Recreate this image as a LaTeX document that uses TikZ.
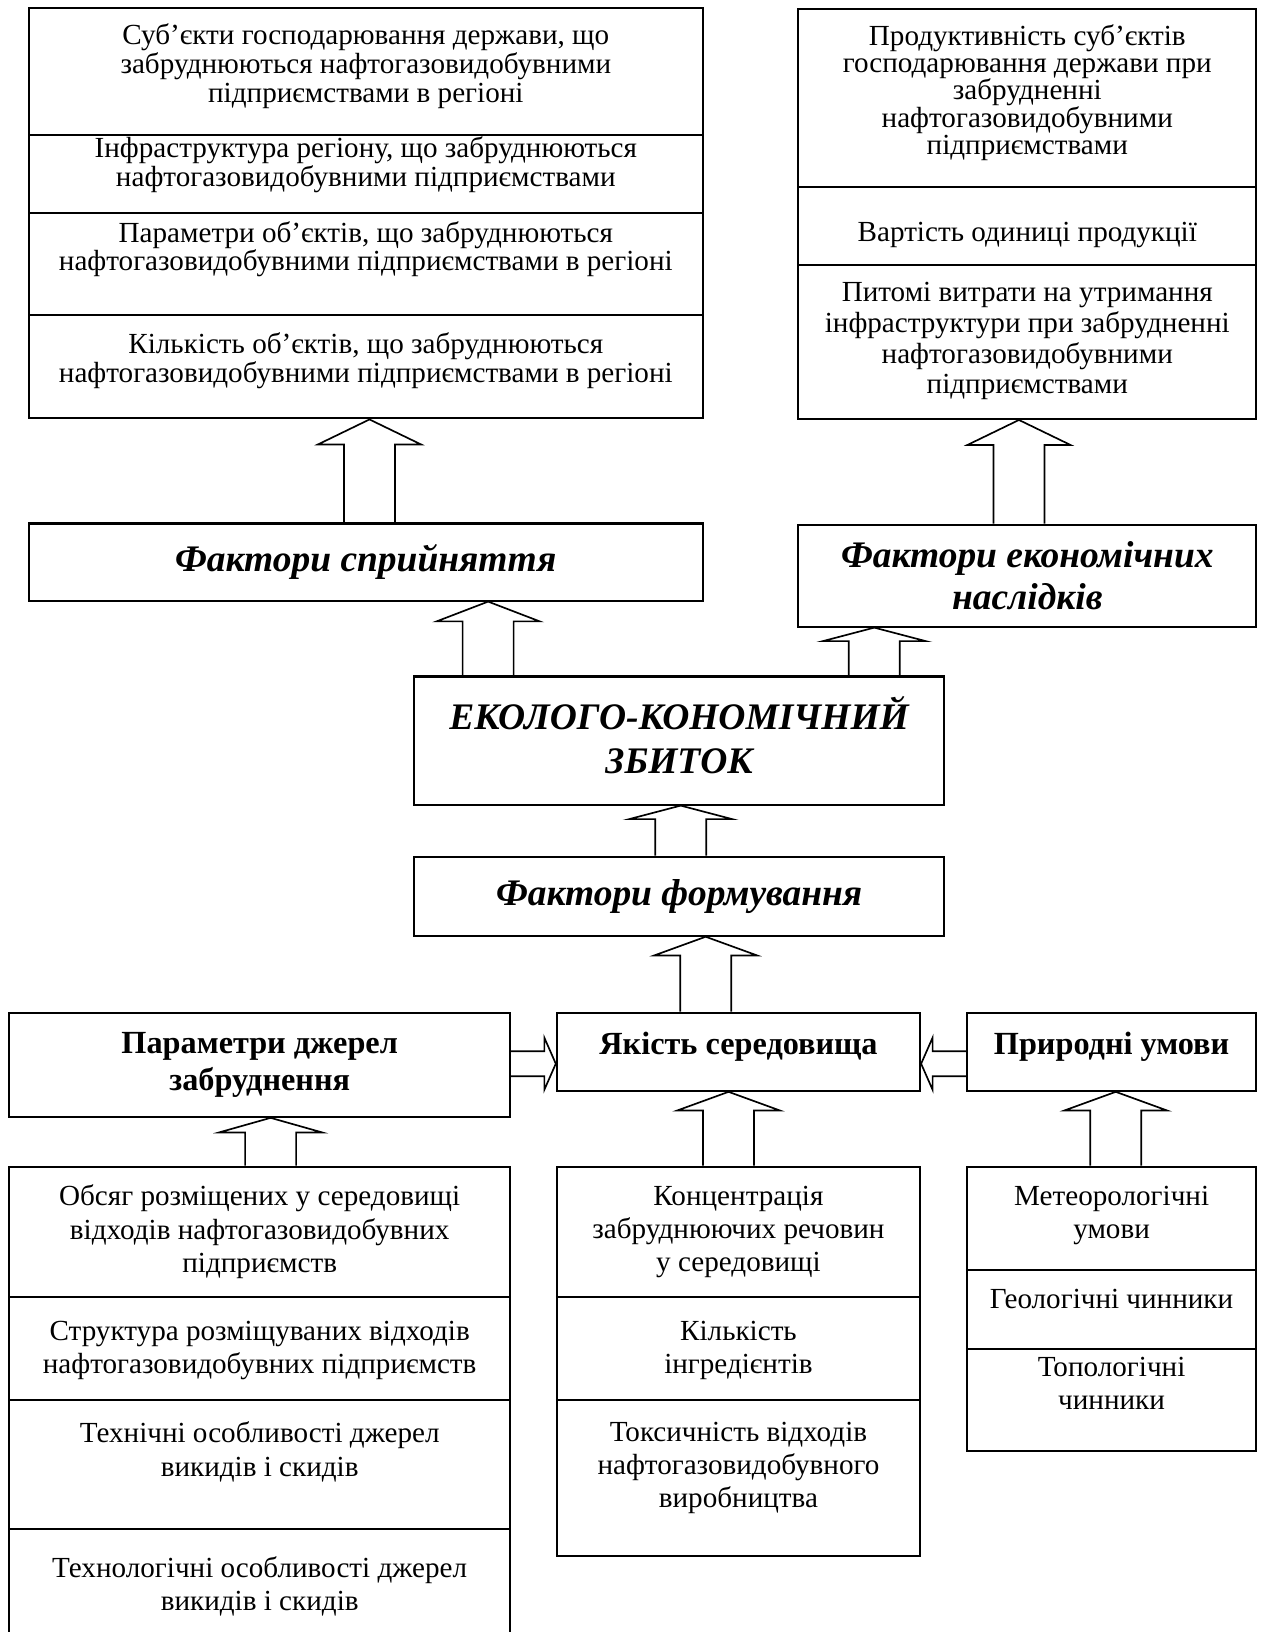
\documentclass[tikz,border=0pt]{standalone}
\usepackage{fontspec}
\setmainfont{Liberation Serif}
\usetikzlibrary{calc}

% hollow block arrows between two named nodes
% \blockup[head length]{x}{lower node}{upper node}
\newcommand{\blockup}[4][22]{%
  \draw[hollow] (#2-24.5,0 |- #3.north) -- ($(#2-24.5,0 |- #4.south)+(0,#1)$)
    -- ($(#2-49.5,0 |- #4.south)+(0,#1)$) -- (#2,0 |- #4.south)
    -- ($(#2+49.5,0 |- #4.south)+(0,#1)$) -- ($(#2+24.5,0 |- #4.south)+(0,#1)$)
    -- (#2+24.5,0 |- #3.north);}
% \blockright{y}{left node}{right node}
\newcommand{\blockright}[3]{%
  \draw[hollow] (0,#1-12 -| #2.east) -- ($(0,#1-12 -| #3.west)+(-11,0)$)
    -- ($(0,#1-25 -| #3.west)+(-11,0)$) -- (0,#1 -| #3.west)
    -- ($(0,#1+25 -| #3.west)+(-11,0)$) -- ($(0,#1+12 -| #3.west)+(-11,0)$)
    -- (0,#1+12 -| #2.east);}
% \blockleft{y}{right node}{left node}
\newcommand{\blockleft}[3]{%
  \draw[hollow] (0,#1-12 -| #2.west) -- ($(0,#1-12 -| #3.east)+(11,0)$)
    -- ($(0,#1-25 -| #3.east)+(11,0)$) -- (0,#1 -| #3.east)
    -- ($(0,#1+25 -| #3.east)+(11,0)$) -- ($(0,#1+12 -| #3.east)+(11,0)$)
    -- (0,#1+12 -| #2.west);}

\begin{document}
\begin{tikzpicture}
	[x=0.5pt,y=-0.5pt,every node/.style={inner sep=0pt, align=center, font=\fontsize{14}{13.75}\selectfont}]
	\tikzstyle{box} = [draw, line width=1pt];
	\tikzstyle{divider} = [line width=1pt];
	\tikzstyle{hollow} = [line width=0.8pt, line join=miter];
	\tikzstyle{title} = [font=\fontsize{18}{20.5}\selectfont\bfseries\itshape];
	\tikzstyle{heavy} = [font=\fontsize{15.5}{18}\selectfont\bfseries];
	\tikzstyle{loose} = [font=\fontsize{14}{16}\selectfont];
	
	\useasboundingbox (0,0) rectangle (1216,1568);
	\clip (0,0) rectangle (1216,1568);
	
	% top left stack
	\node[box, minimum width=323.5pt, minimum height=197pt] (stackTL) at (351.5,205) {};
	\draw[divider] (stackTL.west |- 0,130) -- (stackTL.east |- 0,130);
	\draw[divider] (stackTL.west |- 0,205) -- (stackTL.east |- 0,205);
	\draw[divider] (stackTL.west |- 0,303) -- (stackTL.east |- 0,303);
	\node (tl1) at (351.5,63.5) {Суб’єкти господарювання держави, що\\ забруднюються нафтогазовидобувними\\ підприємствами в регіоні};
	\node (tl2) at (351.5,158.5) {Інфраструктура регіону, що забруднюються\\ нафтогазовидобувними підприємствами};
	\node (tl3) at (351.5,239.5) {Параметри об’єктів, що забруднюються\\ нафтогазовидобувними підприємствами в регіоні};
	\node (tl4) at (351.5,346.5) {Кількість об’єктів, що забруднюються\\ нафтогазовидобувними підприємствами в регіоні};
	
	% top right stack
	\node[box, minimum width=220pt, minimum height=197pt] (stackTR) at (987,205.5) {};
	\draw[divider] (stackTR.west |- 0,180) -- (stackTR.east |- 0,180);
	\draw[divider] (stackTR.west |- 0,255) -- (stackTR.east |- 0,255);
	\node[font=\fontsize{14}{13.1}\selectfont] (tr1) at (987,89) {Продуктивність суб’єктів\\ господарювання держави при\\ забрудненні\\ нафтогазовидобувними\\ підприємствами};
	\node (tr2) at (987,226) {Вартість одиниці продукції};
	\node[font=\fontsize{14}{14.75}\selectfont] (tr3) at (987,328) {Питомі витрати на утримання\\ інфраструктури при забрудненні\\ нафтогазовидобувними\\ підприємствами};
	
	% factors and damage
	\node[box, title, minimum width=323.5pt, minimum height=37pt] (factS) at (351.5,540) {Фактори сприйняття};
	\node[box, title, minimum width=220pt, minimum height=49pt] (factE) at (987,553) {Фактори економічних\\ наслідків};
	\node[box, minimum width=254.5pt, minimum height=61.5pt] (dam) at (652.5,711.5) {};
	\node[title, font=\fontsize{18}{21}\selectfont\bfseries\itshape] (damtext) at (652.5,706) {ЕКОЛОГО-КОНОМІЧНИЙ\\ ЗБИТОК};
	\node[box, title, minimum width=254.5pt, minimum height=38pt] (factF) at (652.5,861) {Фактори формування};
	
	% middle row
	\node[box, heavy, minimum width=240.5pt, minimum height=50pt] (src) at (249.5,1023) {Параметри джерел\\ забруднення};
	\node[box, heavy, text depth=8pt, minimum width=174.5pt, minimum height=37.5pt] (qual) at (709.5,1010.5) {Якість середовища};
	\node[box, heavy, text depth=8pt, minimum width=139pt, minimum height=37.5pt] (nat) at (1068,1010.5) {Природні умови};
	
	% bottom left stack
	\node[box, minimum width=240.5pt, minimum height=229.5pt] (stackBL) at (249.5,1350.5) {};
	\draw[divider] (stackBL.west |- 0,1246) -- (stackBL.east |- 0,1246);
	\draw[divider] (stackBL.west |- 0,1345) -- (stackBL.east |- 0,1345);
	\draw[divider] (stackBL.west |- 0,1469) -- (stackBL.east |- 0,1469);
	\node[loose] (bl1) at (249.5,1183.5) {Обсяг розміщених у середовищі\\ відходів нафтогазовидобувних\\ підприємств};
	\node[loose] (bl2) at (249.5,1297.5) {Структура розміщуваних відходів\\ нафтогазовидобувних підприємств};
	\node[loose] (bl3) at (249.5,1395) {Технічні особливості джерел\\ викидів і скидів};
	\node[loose] (bl4) at (249.5,1524) {Технологічні особливості джерел\\ викидів і скидів};
	
	% bottom middle stack
	\node[box, minimum width=174.5pt, minimum height=187pt] (stackBM) at (709.5,1308) {};
	\draw[divider] (stackBM.west |- 0,1246) -- (stackBM.east |- 0,1246);
	\draw[divider] (stackBM.west |- 0,1345) -- (stackBM.east |- 0,1345);
	\node[loose] (bm1) at (709.5,1183.5) {Концентрація\\ забруднюючих речовин\\ у середовищі};
	\node[loose] (bm2) at (709.5,1297.5) {Кількість\\ інгредієнтів};
	\node[loose] (bm3) at (709.5,1410.5) {Токсичність відходів\\ нафтогазовидобувного\\ виробництва};
	
	% bottom right stack
	\node[box, minimum width=139pt, minimum height=136.5pt] (stackBR) at (1068,1257.5) {};
	\draw[divider] (stackBR.west |- 0,1220.5) -- (stackBR.east |- 0,1220.5);
	\draw[divider] (stackBR.west |- 0,1296) -- (stackBR.east |- 0,1296);
	\node[loose] (br1) at (1068,1167.5) {Метеорологічні\\ умови};
	\node[loose] (br2) at (1068,1248) {Геологічні чинники};
	\node[loose] (br3) at (1068,1329) {Топологічні\\ чинники};
	
	% arrows
	\blockup[24]{355}{factS}{stackTL}
	\blockup[24]{979}{factE}{stackTR}
	\blockup[19]{469}{dam}{factS}
	\blockup[13]{840}{dam}{factE}
	\blockup[13]{654}{factF}{dam}
	\blockup[18]{678}{qual}{factF}
	\blockup[14]{260}{stackBL}{src}
	\blockup[18]{700}{stackBM}{qual}
	\blockup[18]{1072}{stackBR}{nat}
	\blockright{1022}{src}{qual}
	\blockleft{1022}{nat}{qual}
\end{tikzpicture}
\end{document}
